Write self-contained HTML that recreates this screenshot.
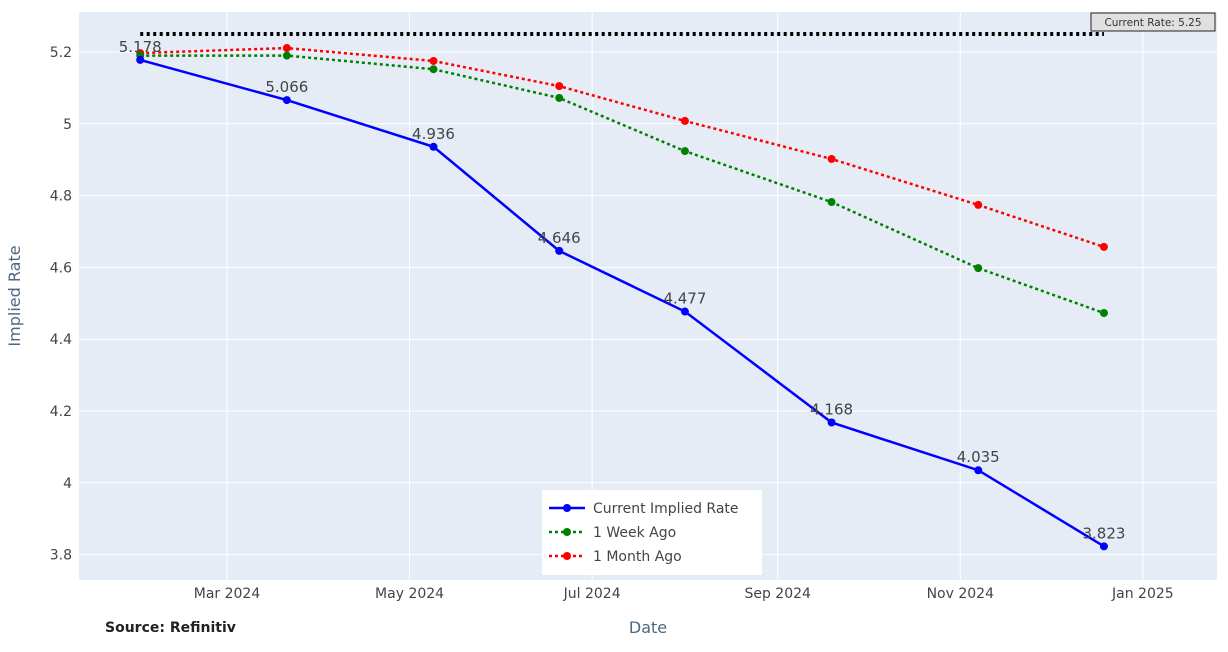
<!DOCTYPE html>
<html><head><meta charset="utf-8"><style>
body{margin:0;background:#fff;}
svg text{font-family:"DejaVu Sans","Liberation Sans",sans-serif;}
</style></head><body>
<svg id="chart" width="1228" height="647" xmlns="http://www.w3.org/2000/svg">
<rect x="79" y="12" width="1138" height="568" fill="#e5ecf6"/>
<g id="grid"></g>
<g id="series"></g>
<g id="labels"></g>
<text x="20" y="296" transform="rotate(-90 20 296)" text-anchor="middle" font-size="16" fill="#506784">Implied Rate</text>
<text x="648" y="633" text-anchor="middle" font-size="16" fill="#506784">Date</text>
<text x="105" y="632" font-size="14" font-weight="bold" fill="#222">Source: Refinitiv</text>
<g>
<rect x="1091" y="13" width="124" height="18" fill="#e0e0e0" stroke="#222" stroke-width="1"/>
<text x="1153" y="26" text-anchor="middle" font-size="10.5" fill="#333">Current Rate: 5.25</text>
</g>
<g>
<rect x="542" y="490" width="220" height="85" fill="#fff"/>
<g>
<line x1="549" y1="508" x2="585" y2="508" stroke="#0000ff" stroke-width="2.5"/><circle cx="567" cy="508" r="4" fill="#0000ff"/>
<text x="593" y="513" font-size="14" fill="#444">Current Implied Rate</text></g>
<g>
<line x1="549" y1="532" x2="585" y2="532" stroke="#008000" stroke-width="2.5" stroke-dasharray="3,3"/><circle cx="567" cy="532" r="4" fill="#008000"/>
<text x="593" y="537" font-size="14" fill="#444">1 Week Ago</text></g>
<g>
<line x1="549" y1="556" x2="585" y2="556" stroke="#ff0000" stroke-width="2.5" stroke-dasharray="3,3"/><circle cx="567" cy="556" r="4" fill="#ff0000"/>
<text x="593" y="561" font-size="14" fill="#444">1 Month Ago</text></g>
</g>
</svg>
<script>
const dates=["2024-02-01","2024-03-21","2024-05-09","2024-06-20","2024-08-01","2024-09-19","2024-11-07","2024-12-19"];
const currentRates=[5.178,5.066,4.936,4.646,4.477,4.168,4.035,3.823];
const weekAgo=[5.19,5.19,5.152,5.072,4.924,4.782,4.598,4.473];
const monthAgo=[5.197,5.211,5.175,5.105,5.008,4.902,4.774,4.657];
const currentRate=5.25;
const yTicks=[3.8,4,4.2,4.4,4.6,4.8,5,5.2];
const yTickLabels=["3.8","4","4.2","4.4","4.6","4.8","5","5.2"];
const xTicks=["2024-03-01","2024-05-01","2024-07-01","2024-09-01","2024-11-01","2025-01-01"];
const xTickLabels=["Mar 2024","May 2024","Jul 2024","Sep 2024","Nov 2024","Jan 2025"];

const NS="http://www.w3.org/2000/svg";
const t0=Date.parse("2024-03-01");
function xs(d){return 227+(Date.parse(d)-t0)/86400000*2.993;}
function ys(v){return 52+(5.2-v)*359;}
function mk(tag,attrs,parent){const e=document.createElementNS(NS,tag);for(const k in attrs)e.setAttribute(k,attrs[k]);parent.appendChild(e);return e;}
const grid=document.getElementById('grid'),ser=document.getElementById('series'),lab=document.getElementById('labels');
yTicks.forEach((v,i)=>{
 const l=mk('line',{x1:79,x2:1217,y1:ys(v),y2:ys(v),stroke:'#fff','stroke-width':1},grid);
 
 
 const t=mk('text',{x:72,y:ys(v)+5,'text-anchor':'end','font-size':14,fill:'#444'},grid);
 t.textContent=yTickLabels[i];
 
 
});
xTicks.forEach((d,i)=>{
 const l=mk('line',{x1:xs(d),x2:xs(d),y1:12,y2:580,stroke:'#fff','stroke-width':1},grid);
 
 
 const t=mk('text',{x:xs(d),y:598,'text-anchor':'middle','font-size':14,fill:'#444'},grid);
 t.textContent=xTickLabels[i];
 
 
});
const cr=mk('line',{x1:xs(dates[0]),x2:xs(dates[dates.length-1]),y1:ys(currentRate),y2:ys(currentRate),stroke:'#000','stroke-width':4,'stroke-dasharray':'3,3.5'},ser);


function series(vals,color,dash,name){
 const p=mk('polyline',{points:vals.map((v,i)=>xs(dates[i])+','+ys(v)).join(' '),fill:'none',stroke:color,'stroke-width':2.5},ser);
 if(dash)p.setAttribute('stroke-dasharray',dash);
 
 
 vals.forEach((v,i)=>{
  const c=mk('circle',{cx:xs(dates[i]),cy:ys(v),r:4,fill:color},ser);
  
  
 });
}
series(monthAgo,'#ff0000','3,3','month-ago');
series(weekAgo,'#008000','3,3','week-ago');
series(currentRates,'#0000ff',null,'current');
currentRates.forEach((v,i)=>{
 const t=mk('text',{x:xs(dates[i]),y:ys(v)-8,'text-anchor':'middle','font-size':15,fill:'#444'},lab);
 t.textContent=v.toFixed(3);
 
 
});
</script>
</body></html>
